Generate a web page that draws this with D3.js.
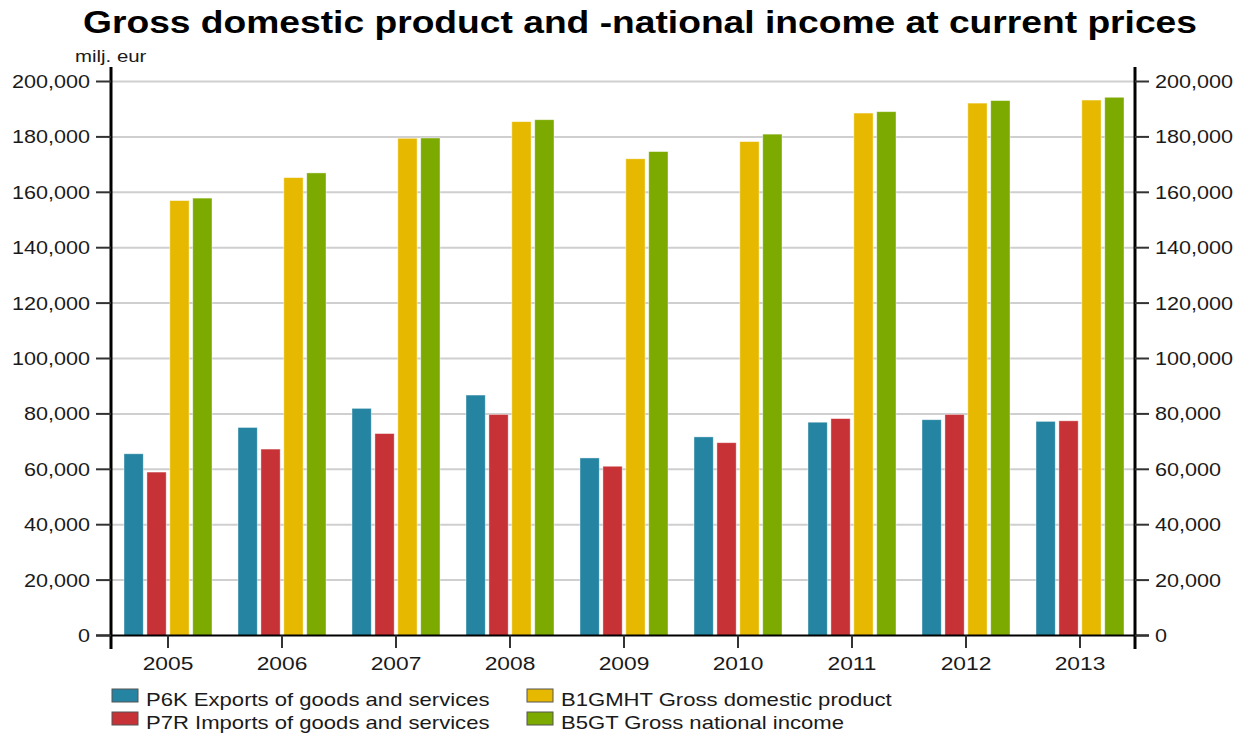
<!DOCTYPE html>
<html>
<head>
<meta charset="utf-8">
<script src="https://cdn.jsdelivr.net/npm/d3@7"></script>
<style>
  html, body { margin: 0; padding: 0; background: #ffffff; }
  svg { display: block; }
  text { font-family: "Liberation Sans", Arial, sans-serif; }
</style>
</head>
<body>
<svg id="chart" width="1250" height="735"></svg>
<script>
const years = ["2005","2006","2007","2008","2009","2010","2011","2012","2013"];
const seriesNames = [
  "P6K Exports of goods and services",
  "P7R Imports of goods and services",
  "B1GMHT Gross domestic product",
  "B5GT Gross national income"
];
const exportsP6K = [65600, 75100, 82000, 86800, 64100, 71700, 77000, 77900, 77300];
const importsP7R = [59000, 67300, 72900, 79800, 61100, 69600, 78300, 79800, 77500];
const gdpB1GMHT  = [157000, 165300, 179500, 185500, 172100, 178300, 188600, 192200, 193300];
const gniB5GT    = [157900, 167000, 179600, 186200, 174700, 181000, 189100, 193100, 194300];
const yTicks = [0, 20000, 40000, 60000, 80000, 100000, 120000, 140000, 160000, 180000, 200000];
const colors = ["#2484a1", "#c63236", "#e6b900", "#7caa00"];
const titleText = "Gross domestic product and -national income at current prices";
const unitText = "milj. eur";

const seriesValues = [exportsP6K, importsP7R, gdpB1GMHT, gniB5GT];

const svg = d3.select("#chart");
const SX = 1.2; // horizontal stretch of the original rendering

function stext(g, x, y, str, size, anchor, weight) {
  return g.append("text")
    .attr("transform", `translate(${x},${y}) scale(${SX},1)`)
    .attr("font-size", size)
    .attr("font-weight", weight || "normal")
    .attr("text-anchor", anchor || "start")
    .attr("fill", "#1a1a1a")
    .text(str);
}

const left = 111, right = 1137;
const y = d3.scaleLinear().domain([0, 200000]).range([635.5, 81.5]);
const x0 = d3.scaleBand().domain(years).range([left, right]).padding(0);
const x1 = d3.scaleBand().domain(d3.range(4)).range([13, 101]).paddingInner(0.16);

// gridlines
svg.append("g").selectAll("line").data(yTicks.filter(d => d > 0)).join("line")
  .attr("x1", left).attr("x2", 1135)
  .attr("y1", d => y(d)).attr("y2", d => y(d))
  .attr("stroke", "#cfcfcf").attr("stroke-width", 2);

// bars
const groups = svg.append("g").selectAll("g").data(years).join("g")
  .attr("transform", d => `translate(${x0(d)},0)`);
groups.selectAll("rect")
  .data((d, i) => seriesValues.map((s, k) => ({ k, v: s[i] })))
  .join("rect")
  .attr("x", d => x1(d.k))
  .attr("width", x1.bandwidth())
  .attr("y", d => y(d.v))
  .attr("height", d => y(0) - y(d.v))
  .attr("fill", d => colors[d.k])
  .attr("stroke", "#ffffff").attr("stroke-opacity", 0.5).attr("stroke-width", 0.8);

// x axis line
svg.append("line").attr("x1", 96).attr("x2", 1149).attr("y1", y(0)).attr("y2", y(0))
  .attr("stroke", "#000").attr("stroke-width", 2);
// x ticks
svg.append("g").selectAll("line").data(years).join("line")
  .attr("x1", d => x0(d) + x0.bandwidth() / 2).attr("x2", d => x0(d) + x0.bandwidth() / 2)
  .attr("y1", y(0)).attr("y2", 648)
  .attr("stroke", "#333").attr("stroke-width", 2);
const xl = svg.append("g");
years.forEach(d => stext(xl, x0(d) + x0.bandwidth() / 2, 670, d, 19, "middle"));

// left axis
svg.append("line").attr("x1", 111).attr("x2", 111).attr("y1", 67).attr("y2", 649)
  .attr("stroke", "#000").attr("stroke-width", 3);
svg.append("g").selectAll("line").data(yTicks).join("line")
  .attr("x1", 96).attr("x2", 111).attr("y1", d => y(d)).attr("y2", d => y(d))
  .attr("stroke", "#333").attr("stroke-width", 2);
const yl = svg.append("g");
yTicks.forEach(t => stext(yl, 90, y(t) + 6.5, d3.format(",")(t), 18, "end"));

// right axis
svg.append("line").attr("x1", 1135).attr("x2", 1135).attr("y1", 67).attr("y2", 649)
  .attr("stroke", "#000").attr("stroke-width", 3);
svg.append("g").selectAll("line").data(yTicks).join("line")
  .attr("x1", 1135).attr("x2", 1149).attr("y1", d => y(d)).attr("y2", d => y(d))
  .attr("stroke", "#333").attr("stroke-width", 2);
const yr = svg.append("g");
yTicks.forEach(t => stext(yr, 1155, y(t) + 6.5, d3.format(",")(t), 18, "start"));

// unit label
stext(svg, 75, 62, unitText, 17, "start");

// title
stext(svg, 640, 33, titleText, 31, "middle", "bold").attr("fill", "#000");

// legend
const legPos = [[112, 701], [112, 724], [527, 701], [527, 724]];
seriesNames.forEach((name, k) => {
  const [lx, ly] = legPos[k];
  svg.append("rect").attr("x", lx).attr("y", ly - 12).attr("width", 26).attr("height", 13)
    .attr("fill", colors[k]).attr("stroke", "#555").attr("stroke-width", 1);
  stext(svg, lx + 34, ly + 5, name, 18.4, "start");
});
</script>
</body>
</html>
